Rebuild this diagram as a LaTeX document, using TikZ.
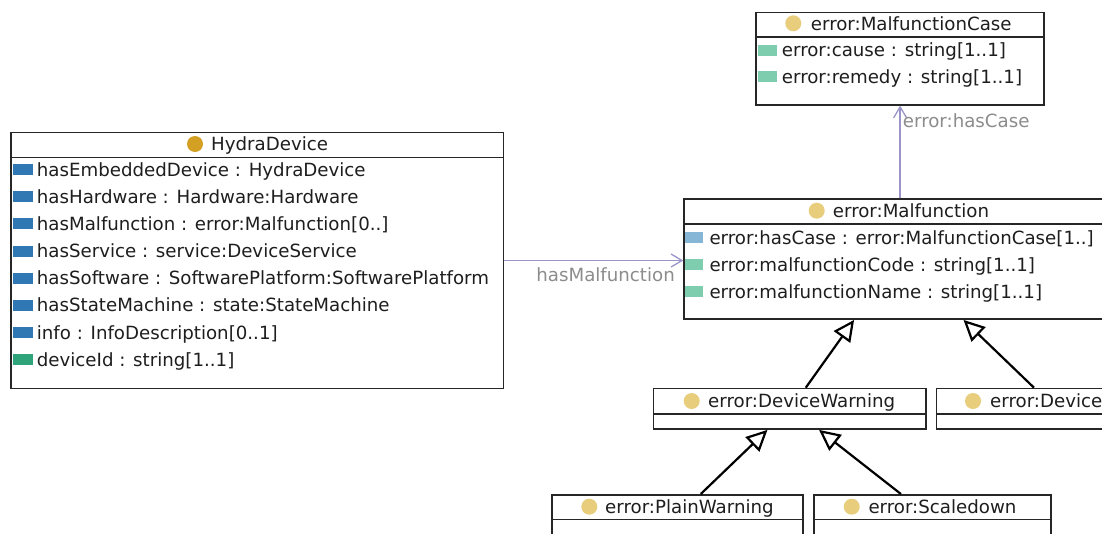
\documentclass[tikz,border=0pt]{standalone}
\usepackage{fontspec}
\setmainfont{DejaVu Sans}
\usetikzlibrary{arrows.meta}

\definecolor{boxline}{HTML}{262626}
\definecolor{txt}{HTML}{1E1E1E}
\definecolor{rolegray}{HTML}{8C8C8C}
\definecolor{assocc}{HTML}{9A94C8}
\definecolor{objprop}{HTML}{2F78B4}
\definecolor{objpropl}{HTML}{86B6D6}
\definecolor{dataprop}{HTML}{2FA47A}
\definecolor{datapropl}{HTML}{7DCDAE}
\definecolor{clsdark}{HTML}{D4A023}
\definecolor{clslight}{HTML}{E8CD7C}

\begin{document}
\begin{tikzpicture}[x=1pt,y=-1pt,
  umlbox/.style={draw=boxline, line width=1.6pt, fill=white, inner sep=0pt, anchor=north west},
  lbl/.style={anchor=base west, inner sep=0pt, text=txt, font=\fontsize{18.2pt}{20pt}\selectfont},
  rolelbl/.style={lbl, text=rolegray},
  sepline/.style={draw=boxline, line width=1.6pt},
  assoc/.style={draw=assocc, line width=1.3pt, -{Straight Barb[length=11pt,width=13pt]}},
  gen/.style={draw=black, line width=2.2pt, -{Triangle[open,length=21pt,width=20pt,fill=white]}}]

\useasboundingbox (0,0) rectangle (1102,533);
\clip (0,0) rectangle (1102,533);
\fill[white] (0,0) rectangle (1102,533);

% ---------------- class boxes ----------------
\node[umlbox, minimum width=492.7pt, minimum height=256pt] (hydra) at (10,131.7) {};
\node[umlbox, minimum width=288pt, minimum height=92.3pt] (mcase) at (755.3,11.7) {};
\node[umlbox, minimum width=432pt, minimum height=120pt] (malf) at (683.3,198.3) {};
\node[umlbox, minimum width=272.3pt, minimum height=40.6pt] (dwarn) at (652.7,387.7) {};
\node[umlbox, minimum width=240pt, minimum height=40.6pt] (derr) at (935.7,387.7) {};
\node[umlbox, minimum width=251.3pt, minimum height=70pt] (plain) at (551,494) {};
\node[umlbox, minimum width=237pt, minimum height=70pt] (scale) at (813.3,494) {};

% header separators
\draw[sepline] (10,157.3) -- (502.7,157.3);
\draw[sepline] (755.3,36.7) -- (1043.3,36.7);
\draw[sepline] (683.3,224) -- (1115.3,224);
\draw[sepline] (652.7,413.7) -- (925,413.7);
\draw[sepline] (935.7,413.7) -- (1175.7,413.7);
\draw[sepline] (551,519.3) -- (802.3,519.3);
\draw[sepline] (813.3,519.3) -- (1050.3,519.3);

% ---------------- headers ----------------
\fill[clsdark] (195,144) circle (8pt);
\node[lbl] (hydra-title) at (211,150.6) {HydraDevice};
\fill[clslight] (793.3,23.3) circle (8pt);
\node[lbl] (mcase-title) at (810.7,30) {error:MalfunctionCase};
\fill[clslight] (816.7,210.7) circle (8pt);
\node[lbl] (malf-title) at (832.7,217.3) {error:Malfunction};
\fill[clslight] (691.7,401) circle (8pt);
\node[lbl] (dwarn-title) at (708,407.6) {error:DeviceWarning};
\fill[clslight] (973,401) circle (8pt);
\node[lbl] (derr-title) at (990,407.6) {error:Device};
\fill[clslight] (589.3,506.7) circle (8pt);
\node[lbl] (plain-title) at (605,513.3) {error:PlainWarning};
\fill[clslight] (851.7,506.7) circle (8pt);
\node[lbl] (scale-title) at (868.3,513.3) {error:Scaledown};

% ---------------- HydraDevice properties ----------------
\foreach \t/\c [count=\i from 0] in {
    {hasEmbeddedDevice : HydraDevice}/objprop,
    {hasHardware : Hardware:Hardware}/objprop,
    {hasMalfunction : error:Malfunction[0..]}/objprop,
    {hasService : service:DeviceService}/objprop,
    {hasSoftware : SoftwarePlatform:SoftwarePlatform}/objprop,
    {hasStateMachine : state:StateMachine}/objprop,
    {info : InfoDescription[0..1]}/objprop,
    {deviceId : string[1..1]}/dataprop} {
  \pgfmathsetmacro\yc{169.6+27.15*\i}
  \fill[\c] (12.7,\yc-5.5) rectangle (33.3,\yc+5.5);
  \node[lbl] (hydra-p\i) at (36.7,\yc+6.6) {\t};
}

% ---------------- MalfunctionCase properties ----------------
\foreach \t [count=\i from 0] in {
    {error:cause : string[1..1]},
    {error:remedy : string[1..1]}} {
  \pgfmathsetmacro\yc{50+26.7*\i}
  \fill[datapropl] (758.3,\yc-5.5) rectangle (776.7,\yc+5.5);
  \node[lbl] (mcase-p\i) at (781.7,\yc+6.6) {\t};
}

% ---------------- Malfunction properties ----------------
\foreach \t/\c [count=\i from 0] in {
    {error:hasCase : error:MalfunctionCase[1..]}/objpropl,
    {error:malfunctionCode : string[1..1]}/datapropl,
    {error:malfunctionName : string[1..1]}/datapropl} {
  \pgfmathsetmacro\yc{237.5+27.1*\i}
  \fill[\c] (685,\yc-5.5) rectangle (703.3,\yc+5.5);
  \node[lbl] (malf-p\i) at (709.3,\yc+6.6) {\t};
}

% ---------------- associations ----------------
\draw[assoc] (hydra.east) -- (hydra.east -| malf.west);
\node[rolelbl, anchor=base east] (lbl-hasmalf) at (675,281) {hasMalfunction};
\draw[assoc] (malf.north) -- (mcase.south);
\node[rolelbl] (lbl-hascase) at (902.7,127.3) {error:hasCase};

% ---------------- generalizations ----------------
\draw[gen] ([xshift=16.1pt]dwarn.north) -- ([xshift=-46pt]malf.south);
\draw[gen] ([xshift=-22.5pt]derr.north) -- ([xshift=63.4pt]malf.south);
\draw[gen] ([xshift=23.3pt]plain.north) -- ([xshift=-22.2pt]dwarn.south);
\draw[gen] ([xshift=-31.7pt]scale.north) -- ([xshift=29.4pt]dwarn.south);

\end{tikzpicture}
\end{document}
